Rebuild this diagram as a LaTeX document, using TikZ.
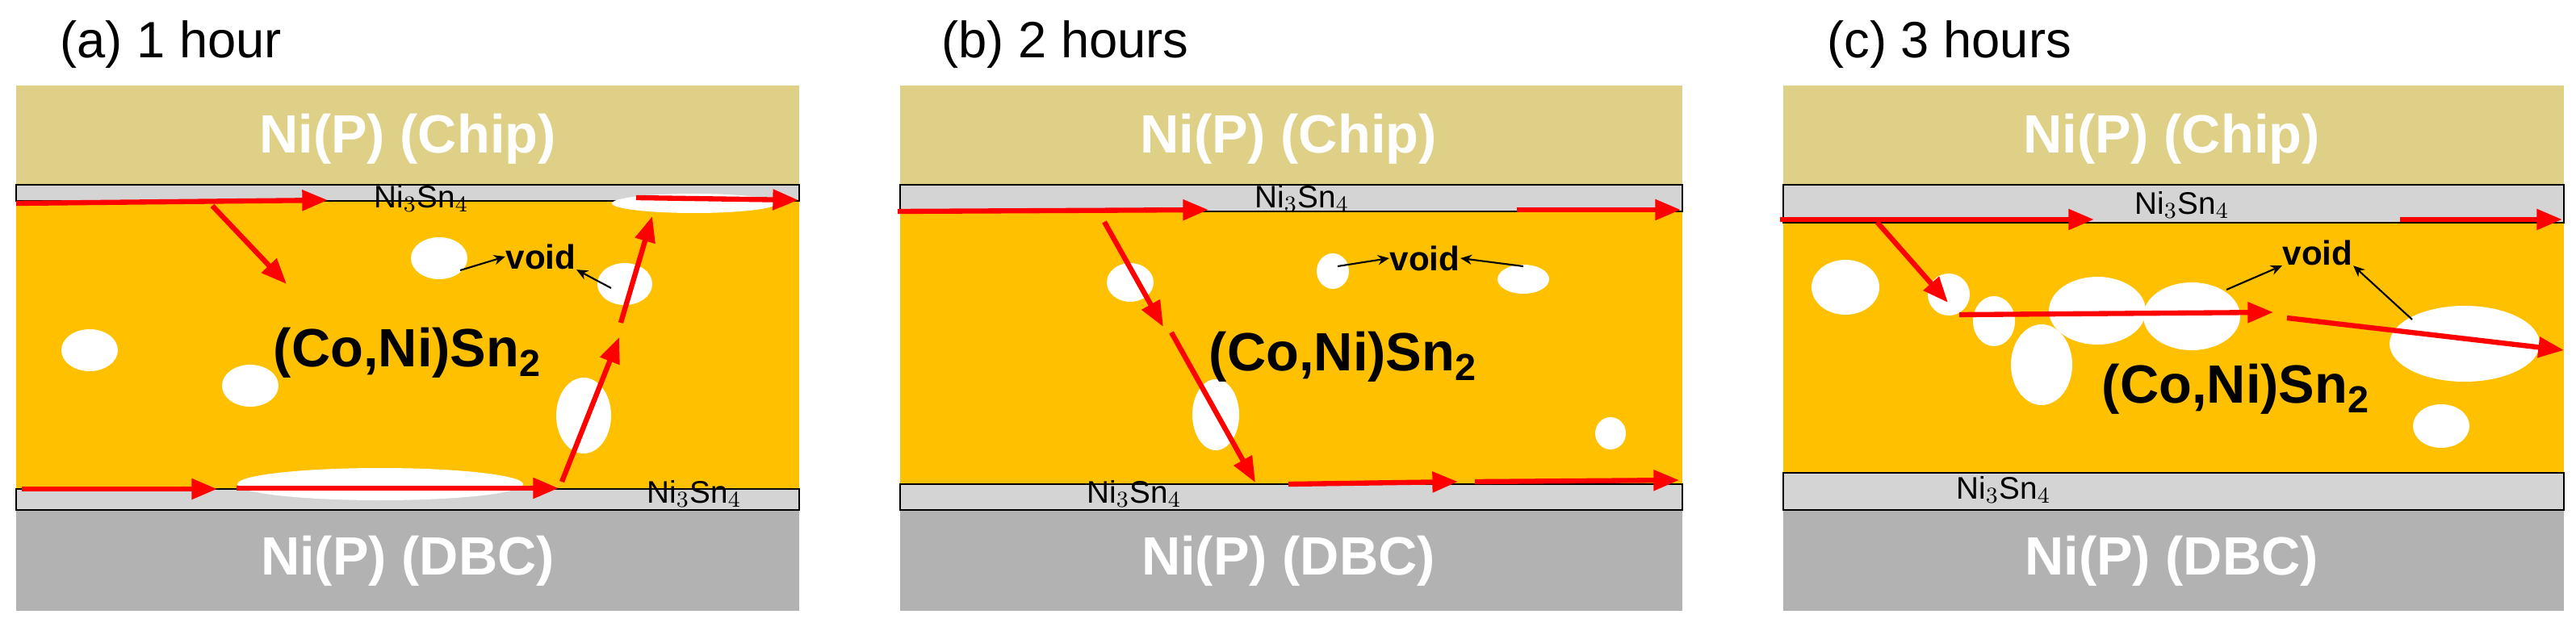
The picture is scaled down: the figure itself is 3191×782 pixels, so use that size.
\documentclass[tikz,border=0pt]{standalone}
\usepackage{fontspec}
\setmainfont{Liberation Sans}
\usetikzlibrary{arrows.meta}
\definecolor{chip}{RGB}{222,208,134}
\definecolor{sold}{RGB}{255,192,0}
\definecolor{imc}{RGB}{212,212,212}
\definecolor{dbc}{RGB}{178,178,178}
\definecolor{rd}{RGB}{255,0,0}
\tikzset{
 title/.style={font=\fontsize{18}{20}\selectfont, anchor=base west},
 big/.style={font=\fontsize{19}{21}\selectfont\bfseries, white},
 mid/.style={font=\fontsize{19}{21}\selectfont\bfseries, black},
 imcl/.style={font=\fontsize{11}{12}\selectfont, black, inner sep=0pt},
 vl/.style={font=\fontsize{12}{13}\selectfont\bfseries, black, inner sep=0pt},
 rarr/.style={rd, line width=1.8pt, -{Triangle[length=9pt,width=7pt]}},
 karr/.style={black, line width=0.6pt, -{Stealth[length=4pt,width=3.5pt]}},
 vd/.style={white},
}
\newcommand{\panel}[6]{% left,right,imc-top-bottom,yellow-bottom,title,unused
 \fill[chip] (#1,106) rectangle (#2,229);
 \fill[sold] (#1,#3) rectangle (#2,#4);
 \fill[dbc] (#1,632) rectangle (#2,757);
 \filldraw[fill=imc,draw=black,line width=0.7pt] (#1,229) rectangle (#2,#3);
 \filldraw[fill=imc,draw=black,line width=0.7pt] (#1,#4) rectangle (#2,632);
}
\begin{document}
\begin{tikzpicture}[x=0.01cm,y=-0.01cm]
\useasboundingbox (0,0) rectangle (3191,782);
% ---------- panel a ----------
\panel{20}{990}{249}{606}{}{}
\foreach \cx/\cy/\rx/\ry in {544/320/35/26, 774/352/34/26, 111/434/35/26, 310/478/35/26, 723/515/34/47, 471/600/177/20, 860/252/102/12}
  \fill[vd] (\cx,\cy) ellipse [x radius=\rx, y radius=\ry];
\node[title] (ta) at (62,72) {(a) 1 hour};
\node[big] (ca) at (505,172) {Ni(P) (Chip)};
\node[big] (da) at (505,695) {Ni(P) (DBC)};
\node[mid] (sa) at (505,437) {(Co,Ni)Sn$_{\mathbf 2}$};
\node[imcl] (ia1) at (522,246) {Ni$_3$Sn$_4$};
\node[imcl] (ia2) at (860,612) {Ni$_3$Sn$_4$};
\node[vl] (va) at (670,318) {void};
\draw[rarr] (20,252) -- (406,248);
\draw[rarr] (263,255) -- (355,352);
\draw[rarr] (788,245) -- (989,248);
\draw[rarr] (27,606) -- (269,606);
\draw[rarr] (293,605) -- (692,605);
\draw[rarr] (696,597) -- (767,418);
\draw[rarr] (769,400) -- (808,268);
\draw[karr] (570,335) -- (va.west);
\draw[karr] (757,357) -- (va.south east);
% ---------- panel b ----------
\panel{1115}{2084}{262}{600}{}{}
\foreach \cx/\cy/\rx/\ry in {1400/350/29/24, 1651/336/20/22, 1887/346/32/18, 1506/514/29/44, 1995/537/19/20}
  \fill[vd] (\cx,\cy) ellipse [x radius=\rx, y radius=\ry];
\node[title] (tb) at (1154,72) {(b) 2 hours};
\node[big] (cb) at (1596,172) {Ni(P) (Chip)};
\node[big] (db) at (1596,695) {Ni(P) (DBC)};
\node[mid] (sb) at (1664,442) {(Co,Ni)Sn$_{\mathbf 2}$};
\node[imcl] (ib1) at (1613,246) {Ni$_3$Sn$_4$};
\node[imcl] (ib2) at (1405,612) {Ni$_3$Sn$_4$};
\node[vl] (vb) at (1765,320) {void};
\draw[rarr] (1112,262) -- (1497,260);
\draw[rarr] (1879,260) -- (2082,260);
\draw[rarr] (1368,275) -- (1441,405);
\draw[rarr] (1451,412) -- (1555,598);
\draw[rarr] (1596,600) -- (1806,597);
\draw[rarr] (1827,597) -- (2080,595);
\draw[karr] (1657,330) -- (vb.west);
\draw[karr] (1887,330) -- (vb.east);
% ---------- panel c ----------
\panel{2209}{3176}{276}{586}{}{}
\foreach \cx/\cy/\rx/\ry in {2286/356/42/34, 2414/365/26/26, 2470/398/26/31, 2529/452/38/50, 2598/385/60/42, 2715/392/60/42, 3053/426/93/47, 3024/528/35/27}
  \fill[vd] (\cx,\cy) ellipse [x radius=\rx, y radius=\ry];
\node[title] (tc) at (2251,72) {(c) 3 hours};
\node[big] (cc) at (2690,172) {Ni(P) (Chip)};
\node[big] (dc) at (2690,695) {Ni(P) (DBC)};
\node[mid] (sc) at (2770,482) {(Co,Ni)Sn$_{\mathbf 2}$};
\node[imcl] (ic1) at (2703,254) {Ni$_3$Sn$_4$};
\node[imcl] (ic2) at (2482,607) {Ni$_3$Sn$_4$};
\node[vl] (vc) at (2871,313) {void};
\draw[rarr] (2205,272) -- (2594,272);
\draw[rarr] (2973,272) -- (3174,272);
\draw[rarr] (2325,275) -- (2413,375);
\draw[rarr] (2427,390) -- (2816,387);
\draw[rarr] (2833,394) -- (3176,434);
\draw[karr] (2758,359) -- (vc.south west);
\draw[karr] (2988,396) -- (vc.south east);
\end{tikzpicture}
\end{document}
